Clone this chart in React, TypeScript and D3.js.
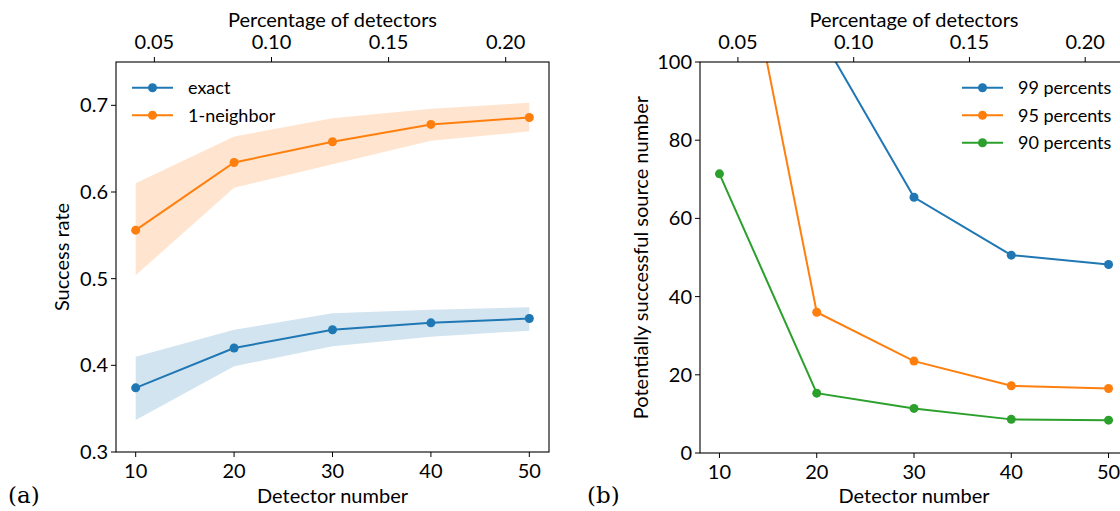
import React from "react";
import * as d3 from "d3";

// ---------- data ----------
const detectors = [10, 20, 30, 40, 50];
const totalDetectors = 238;

const exactMean = [0.374, 0.42, 0.441, 0.449, 0.454];
const exactLow = [0.337, 0.399, 0.422, 0.433, 0.44];
const exactHigh = [0.41, 0.441, 0.46, 0.464, 0.467];

const neighborMean = [0.556, 0.634, 0.658, 0.678, 0.686];
const neighborLow = [0.504, 0.605, 0.632, 0.659, 0.67];
const neighborHigh = [0.61, 0.664, 0.685, 0.696, 0.703];

const p99 = [180, 108.4, 65.4, 50.6, 48.2];
const p95 = [161, 36.0, 23.5, 17.2, 16.5];
const p90 = [71.4, 15.3, 11.4, 8.6, 8.4];

const leftYTicks = [0.3, 0.4, 0.5, 0.6, 0.7];
const rightYTicks = [0, 20, 40, 60, 80, 100];
const xTicks = [10, 20, 30, 40, 50];
const pctTicks = [0.05, 0.1, 0.15, 0.2];

const BLUE = "#1f77b4";
const ORANGE = "#ff7f0e";
const GREEN = "#2ca02c";

const SANS = "Lato, 'Open Sans', sans-serif";
const SERIF = "'DejaVu Serif', 'Liberation Serif', serif";
const FS = 20;

type Series = { name: string; color: string; mean: number[]; low?: number[]; high?: number[] };

function Panel(props: {
  id: string;
  left: number;
  right: number;
  top: number;
  bottom: number;
  yDomain: [number, number];
  yTicks: number[];
  yFmt: (v: number) => string;
  yLabel: string;
  yLabelX: number;
  series: Series[];
  legendX: number;
  legendY: number;
  panelLabel: string;
  panelLabelX: number;
}) {
  const { left, right, top, bottom } = props;
  const x = d3.scaleLinear().domain([8, 52]).range([left, right]);
  const xTop = d3
    .scaleLinear()
    .domain([8 / totalDetectors, 52 / totalDetectors])
    .range([left, right]);
  const y = d3.scaleLinear().domain(props.yDomain).range([bottom, top]);
  const line = d3
    .line<number>()
    .x((_, i) => x(detectors[i]))
    .y((d) => y(d));
  const area = (lo: number[], hi: number[]) =>
    d3
      .area<number>()
      .x((_, i) => x(detectors[i]))
      .y0((_, i) => y(lo[i]))
      .y1((_, i) => y(hi[i]))(lo) as string;
  const clipId = `clip-${props.id}`;
  const cx = (left + right) / 2;
  return (
    <g>
      <defs>
        <clipPath id={clipId}>
          <rect x={left} y={top} width={right - left} height={bottom - top} />
        </clipPath>
      </defs>
      <g clipPath={`url(#${clipId})`}>
        {props.series.map((s) =>
          s.low && s.high ? (
            <path key={s.name + "band"} d={area(s.low, s.high)} fill={s.color} fillOpacity={0.2} stroke="none" />
          ) : null
        )}
        {props.series.map((s) => (
          <g key={s.name}>
            <path d={line(s.mean) as string} fill="none" stroke={s.color} strokeWidth={2} />
            {s.mean.map((v, i) => (
              <circle key={i} cx={x(detectors[i])} cy={y(v)} r={4.5} fill={s.color} />
            ))}
          </g>
        ))}
      </g>
      {/* frame */}
      <rect x={left} y={top} width={right - left} height={bottom - top} fill="none" stroke="#000" strokeWidth={1.1} />
      {/* bottom ticks */}
      {xTicks.map((t) => (
        <g key={"bx" + t}>
          <line x1={x(t)} x2={x(t)} y1={bottom} y2={bottom + 5} stroke="#000" strokeWidth={1} />
          <text x={x(t)} y={bottom + 26} textAnchor="middle" fontSize={FS} fontFamily={SANS}>
            {t}
          </text>
        </g>
      ))}
      {/* top ticks */}
      {pctTicks.map((t) => (
        <g key={"tx" + t}>
          <line x1={xTop(t)} x2={xTop(t)} y1={top} y2={top - 5} stroke="#000" strokeWidth={1} />
          <text x={xTop(t)} y={top - 13} textAnchor="middle" fontSize={FS} fontFamily={SANS}>
            {d3.format(".2f")(t)}
          </text>
        </g>
      ))}
      {/* y ticks */}
      {props.yTicks.map((t) => (
        <g key={"y" + t}>
          <line x1={left} x2={left - 5} y1={y(t)} y2={y(t)} stroke="#000" strokeWidth={1} />
          <text x={left - 8} y={y(t) + 7} textAnchor="end" fontSize={FS} fontFamily={SANS}>
            {props.yFmt(t)}
          </text>
        </g>
      ))}
      {/* axis labels */}
      <text x={cx} y={503} textAnchor="middle" fontSize={FS} fontFamily={SANS}>
        Detector number
      </text>
      <text x={cx} y={27} textAnchor="middle" fontSize={FS} fontFamily={SANS}>
        Percentage of detectors
      </text>
      <text
        transform={`translate(${props.yLabelX},${(top + bottom) / 2}) rotate(-90)`}
        textAnchor="middle"
        fontSize={FS}
        fontFamily={SANS}
      >
        {props.yLabel}
      </text>
      {/* legend */}
      {props.series.map((s, i) => {
        const ly = props.legendY + i * 27.5;
        return (
          <g key={"lg" + s.name}>
            <line x1={props.legendX} x2={props.legendX + 41} y1={ly} y2={ly} stroke={s.color} strokeWidth={2} />
            <circle cx={props.legendX + 20.5} cy={ly} r={4.5} fill={s.color} />
            <text x={props.legendX + 56} y={ly + 6.5} fontSize={18} fontFamily={SANS}>
              {s.name}
            </text>
          </g>
        );
      })}
      <text x={props.panelLabelX} y={503} fontSize={FS + 3} fontFamily={SERIF}>
        {props.panelLabel}
      </text>
    </g>
  );
}

export default function App() {
  return (
    <svg
      width={1120}
      height={511}
      style={{ position: "fixed", left: 0, top: 0, background: "#fff" }}
    >
      <rect width={1120} height={511} fill="#fff" />
      <Panel
        id="a"
        left={116}
        right={549}
        top={62}
        bottom={452}
        yDomain={[0.3, 0.75]}
        yTicks={leftYTicks}
        yFmt={(v) => d3.format(".1f")(v)}
        yLabel="Success rate"
        yLabelX={69}
        series={[
          { name: "exact", color: BLUE, mean: exactMean, low: exactLow, high: exactHigh },
          { name: "1-neighbor", color: ORANGE, mean: neighborMean, low: neighborLow, high: neighborHigh },
        ]}
        legendX={132}
        legendY={87.7}
        panelLabel="(a)"
        panelLabelX={8}
      />
      <Panel
        id="b"
        left={700}
        right={1128}
        top={62}
        bottom={453}
        yDomain={[0, 100]}
        yTicks={rightYTicks}
        yFmt={(v) => String(v)}
        yLabel="Potentially successful source number"
        yLabelX={648}
        series={[
          { name: "99 percents", color: BLUE, mean: p99 },
          { name: "95 percents", color: ORANGE, mean: p95 },
          { name: "90 percents", color: GREEN, mean: p90 },
        ]}
        legendX={962}
        legendY={87.7}
        panelLabel="(b)"
        panelLabelX={587}
      />
    </svg>
  );
}
